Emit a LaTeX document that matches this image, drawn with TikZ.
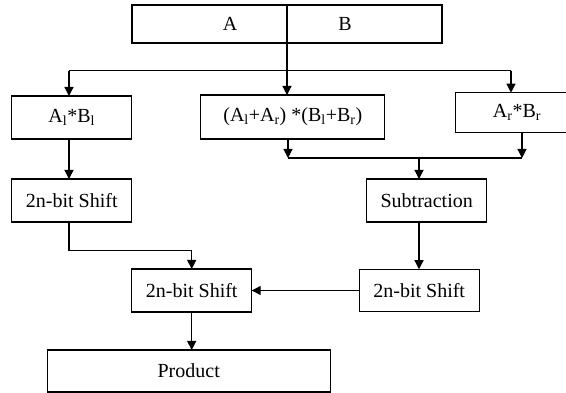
\documentclass[tikz,border=0pt]{standalone}
\usepackage{fontspec}
\setmainfont{Liberation Serif}
\usetikzlibrary{arrows.meta}
\begin{document}
\begin{tikzpicture}[x=1pt,y=-1pt,
  box/.style={draw, line width=1.2pt, inner sep=0pt, outer sep=0pt, font=\fontsize{20}{24}\selectfont},
  lbl/.style={inner sep=0pt, font=\fontsize{20}{24}\selectfont},
  conn/.style={line width=1.2pt},
  arr/.style={line width=1.2pt, -{Triangle[length=9pt,width=9pt]}}]
\useasboundingbox (0,0) rectangle (566,393);
\node[box, minimum width=310pt, minimum height=38pt] (ab) at (287,24) {};
\node[lbl] (la) at (230,24) {A};
\node[lbl] (lb) at (345,24) {B};
\node[box, minimum width=120pt, minimum height=43pt] (a1b1) at (71.7,117.5) {A\textsubscript{l}*B\textsubscript{l}};
\node[box, minimum width=184pt, minimum height=44pt] (mid) at (292.8,117) {(A\textsubscript{l}+A\textsubscript{r}) *(B\textsubscript{l}+B\textsubscript{r})};
\node[box, minimum width=123pt, minimum height=40pt] (arbr) at (517,112.7) {A\textsubscript{r}*B\textsubscript{r}};
\node[box, minimum width=120pt, minimum height=43pt] (sh1) at (71.8,200.5) {2n-bit Shift};
\node[box, minimum width=120pt, minimum height=43pt] (sub) at (426.7,200.5) {Subtraction};
\node[box, minimum width=120pt, minimum height=43pt] (sh2) at (191.7,290.5) {2n-bit Shift};
\node[box, minimum width=120pt, minimum height=42.5pt] (sh3) at (419.2,290.5) {2n-bit Shift};
\node[box, minimum width=283pt, minimum height=42pt] (prod) at (188.7,371) {Product};
% top distribution
\coordinate (jl) at (69,70.7);
\coordinate (jr) at (511,70.7);
\draw[arr] (ab.north) -- (ab.north |- mid.north);
\draw[conn] (jl) -- (jr);
\draw[arr] (jl) -- (jl |- a1b1.north);
\draw[arr] (jr) -- (jr |- arbr.north);
% merge to subtraction
\coordinate (ml) at (288,158);
\coordinate (mr) at (522,158);
\coordinate (ms) at (419,158);
\draw[arr] (ml |- mid.south) -- (ml);
\draw[arr] (mr |- arbr.south) -- (mr);
\draw[conn] (ml) -- (mr);
\draw[arr] (ms) -- (ms |- sub.north);
% left column
\draw[arr] (69,0 |- a1b1.south) -- (69,0 |- sh1.north);
\coordinate (bend) at (69,250.7);
\draw[arr] (bend |- sh1.south) -- (bend) -| (sh2.north);
% right column
\draw[arr] (sub.south -| ms) -- (sh3.north -| ms);
\draw[arr] (sh3.west) -- (sh2.east);
\draw[arr] (sh2.south) -- (sh2.south |- prod.north);
\end{tikzpicture}
\end{document}
